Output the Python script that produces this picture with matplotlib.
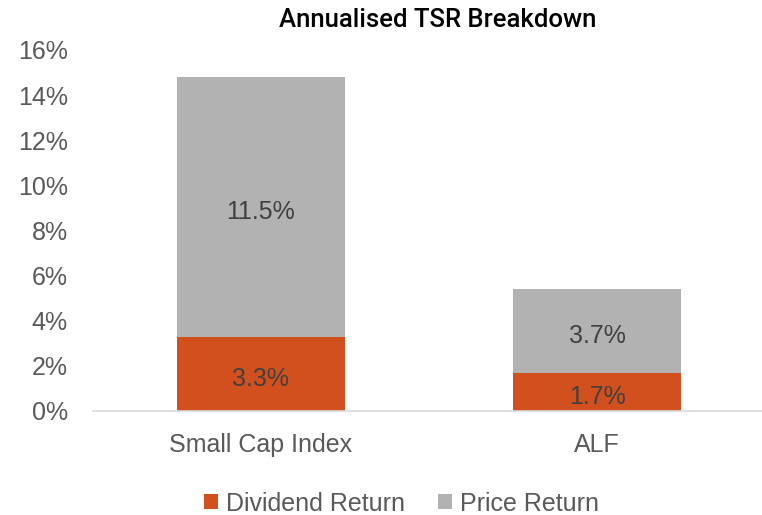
import matplotlib.pyplot as plt
from matplotlib.ticker import FuncFormatter

categories = ['Small Cap Index', 'ALF']
dividend = [3.3, 1.7]
price = [11.5, 3.7]
yticks = [0, 2, 4, 6, 8, 10, 12, 14, 16]

orange = '#D2501E'
grey = '#B2B2B2'
txt = '#595959'

plt.rcParams['font.family'] = ['Liberation Sans', 'DejaVu Sans']

fig = plt.figure(figsize=(7.62, 5.15), dpi=100)
ax = fig.add_axes([0.122, 0.202, 0.882, 0.701])

x = range(len(categories))
ax.bar(x, dividend, width=0.5, color=orange, label='Dividend Return')
ax.bar(x, price, width=0.5, bottom=dividend, color=grey, label='Price Return')

# value labels in the middle of each segment
for i in x:
    ax.annotate(f'{dividend[i]:.1f}%', (i, dividend[i] / 2), xytext=(0, -3.5),
                textcoords='offset points', ha='center', va='center',
                fontsize=18, color='#404040')
    ax.annotate(f'{price[i]:.1f}%', (i, dividend[i] + price[i] / 2), xytext=(0, -3.5),
                textcoords='offset points', ha='center', va='center',
                fontsize=18, color='#404040')

ax.set_xlim(-0.5, 1.5)
ax.set_ylim(0, 16)
ax.set_yticks(yticks)
ax.yaxis.set_major_formatter(FuncFormatter(lambda v, p: f'{v:.0f}%'))
ax.set_xticks(list(x))
ax.set_xticklabels(categories)
ax.tick_params(axis='both', length=0, labelsize=18, colors=txt)
ax.tick_params(axis='x', pad=16)
ax.tick_params(axis='y', pad=18)

for s in ['top', 'right', 'left']:
    ax.spines[s].set_visible(False)
ax.spines['bottom'].set_color('#D9D9D9')
ax.spines['bottom'].set_linewidth(1.2)

fig.suptitle('Annualised TSR Breakdown', x=0.574, y=0.985, fontsize=18.5, color='black',
             family='Roboto', weight='medium')

leg = fig.legend(loc='lower center', bbox_to_anchor=(0.527, -0.045), ncol=2, frameon=False,
                 handlelength=0.55, handleheight=0.55, handletextpad=0.35,
                 columnspacing=1.3, prop={'size': 18})
for t in leg.get_texts():
    t.set_color(txt)

fig.savefig('out.png', dpi=100)
